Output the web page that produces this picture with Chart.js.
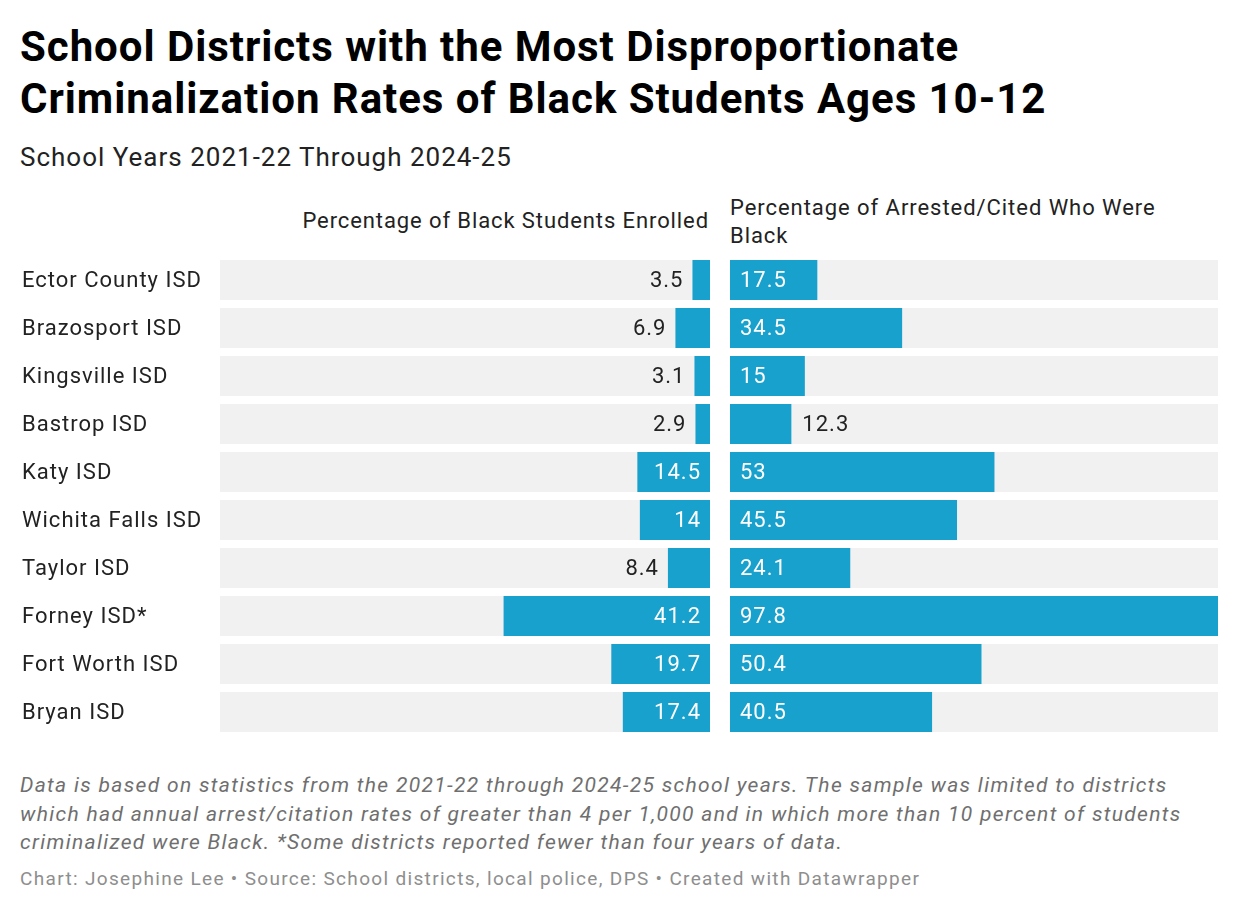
<!DOCTYPE html>
<html>
<head>
<meta charset="utf-8">
<script src="https://cdn.jsdelivr.net/npm/chart.js@4"></script>
<style>
  html, body { margin: 0; padding: 0; background: #fff; }
  body { width: 1240px; height: 912px; position: relative; font-family: Roboto, sans-serif; overflow: hidden; }
  .t { position: absolute; white-space: nowrap; }
  #title { left: 20px; top: 21px; font-size: 42px; line-height: 52px; font-weight: 700; color: #000; letter-spacing: 0.95px; }
  #subtitle { left: 20px; top: 140px; font-size: 26px; line-height: 34px; color: #222; letter-spacing: 1px; }
  #hl { right: 531px; top: 207px; font-size: 22px; line-height: 28px; color: #222; letter-spacing: 0.9px; }
  #hr { left: 730px; top: 194px; font-size: 22px; line-height: 28px; color: #222; letter-spacing: 0.95px; }
  #notes { left: 20px; top: 771px; font-size: 21px; line-height: 28.5px; font-style: italic; color: #6f6f6f; letter-spacing: 1.32px; }
  #byline { left: 20px; top: 867px; font-size: 19px; line-height: 24px; color: #8e8e8e; letter-spacing: 1.33px; }
  #wl { position: absolute; left: 0; top: 256px; width: 710px; height: 480px; }
  #wr { position: absolute; left: 730px; top: 256px; width: 488px; height: 480px; }
</style>
</head>
<body>
<div id="title" class="t">School Districts with the Most Disproportionate<br>Criminalization Rates of Black Students Ages 10-12</div>
<div id="subtitle" class="t">School Years 2021-22 Through 2024-25</div>
<div id="hl" class="t">Percentage of Black Students Enrolled</div>
<div id="hr" class="t">Percentage of Arrested/Cited Who Were<br>Black</div>
<div id="wl"><canvas id="cl"></canvas></div>
<div id="wr"><canvas id="cr"></canvas></div>
<div id="notes" class="t">Data is based on statistics from the 2021-22 through 2024-25 school years. The sample was limited to districts<br>which had annual arrest/citation rates of greater than 4 per 1,000 and in which more than 10 percent of students<br>criminalized were Black. *Some districts reported fewer than four years of data.</div>
<div id="byline" class="t">Chart: Josephine Lee • Source: School districts, local police, DPS • Created with Datawrapper</div>
<script>
const districts = ["Ector County ISD", "Brazosport ISD", "Kingsville ISD", "Bastrop ISD", "Katy ISD",
  "Wichita Falls ISD", "Taylor ISD", "Forney ISD*", "Fort Worth ISD", "Bryan ISD"];
const enrolledPct = [3.5, 6.9, 3.1, 2.9, 14.5, 14, 8.4, 41.2, 19.7, 17.4];
const arrestedPct = [17.5, 34.5, 15, 12.3, 53, 45.5, 24.1, 97.8, 50.4, 40.5];

const BAR = '#18a1cd';
const BG = '#f1f1f1';
const scaleMax = Math.max(...enrolledPct, ...arrestedPct);
Chart.defaults.font.family = 'Roboto, sans-serif';
Chart.defaults.animation = false;

const rowBg = {
  id: 'rowBg',
  beforeDatasetsDraw(chart) {
    const { ctx, chartArea } = chart;
    const meta = chart.getDatasetMeta(0);
    ctx.save();
    ctx.fillStyle = BG;
    meta.data.forEach(bar => {
      const h = bar.height;
      ctx.fillRect(chartArea.left, bar.y - h / 2, chartArea.right - chartArea.left, h);
    });
    ctx.restore();
  }
};

const rowLabels = {
  id: 'rowLabels',
  afterDatasetsDraw(chart) {
    const { ctx, scales } = chart;
    ctx.save();
    ctx.font = '22px Roboto, sans-serif';
    ctx.letterSpacing = '1px';
    ctx.fillStyle = '#222';
    ctx.textAlign = 'left';
    ctx.textBaseline = 'middle';
    chart.data.labels.forEach((lab, i) => {
      ctx.fillText(lab, 22, scales.y.getPixelForValue(i) + 1);
    });
    ctx.restore();
  }
};

function valueLabels(side) {
  return {
    id: 'vl' + side,
    afterDatasetsDraw(chart) {
      const { ctx } = chart;
      const meta = chart.getDatasetMeta(0);
      const data = chart.data.datasets[0].data;
      ctx.save();
      ctx.font = '22px Roboto, sans-serif';
      ctx.letterSpacing = '1px';
      ctx.textBaseline = 'middle';
      meta.data.forEach((bar, i) => {
        const txt = String(data[i]);
        const tw = ctx.measureText(txt).width;
        const bw = Math.abs(bar.x - bar.base);
        const inside = bw > tw + 20;
        const y = bar.y + 1;
        if (side === 'left') {
          ctx.textAlign = 'right';
          if (inside) { ctx.fillStyle = '#fff'; ctx.fillText(txt, bar.base - 9, y); }
          else { ctx.fillStyle = '#222'; ctx.fillText(txt, bar.x - 9, y); }
        } else {
          ctx.textAlign = 'left';
          if (inside) { ctx.fillStyle = '#fff'; ctx.fillText(txt, bar.base + 10, y); }
          else { ctx.fillStyle = '#222'; ctx.fillText(txt, bar.x + 11, y); }
        }
      });
      ctx.restore();
    }
  };
}

function makeChart(id, values, side) {
  const plugins = [rowBg, valueLabels(side)];
  if (side === 'left') plugins.push(rowLabels);
  return new Chart(document.getElementById(id), {
    type: 'bar',
    data: {
      labels: districts,
      datasets: [{ data: values, backgroundColor: BAR, borderWidth: 0, barPercentage: 1, categoryPercentage: 40 / 48 }]
    },
    options: {
      indexAxis: 'y',
      responsive: true,
      maintainAspectRatio: false,
      layout: { padding: { left: side === 'left' ? 220 : 0, right: 0, top: 0, bottom: 0 } },
      plugins: { legend: { display: false }, tooltip: { enabled: false } },
      scales: {
        x: { display: false, min: 0, max: scaleMax, reverse: side === 'left' },
        y: { display: false }
      }
    },
    plugins
  });
}

makeChart('cl', enrolledPct, 'left');
makeChart('cr', arrestedPct, 'right');
</script>
</body>
</html>
